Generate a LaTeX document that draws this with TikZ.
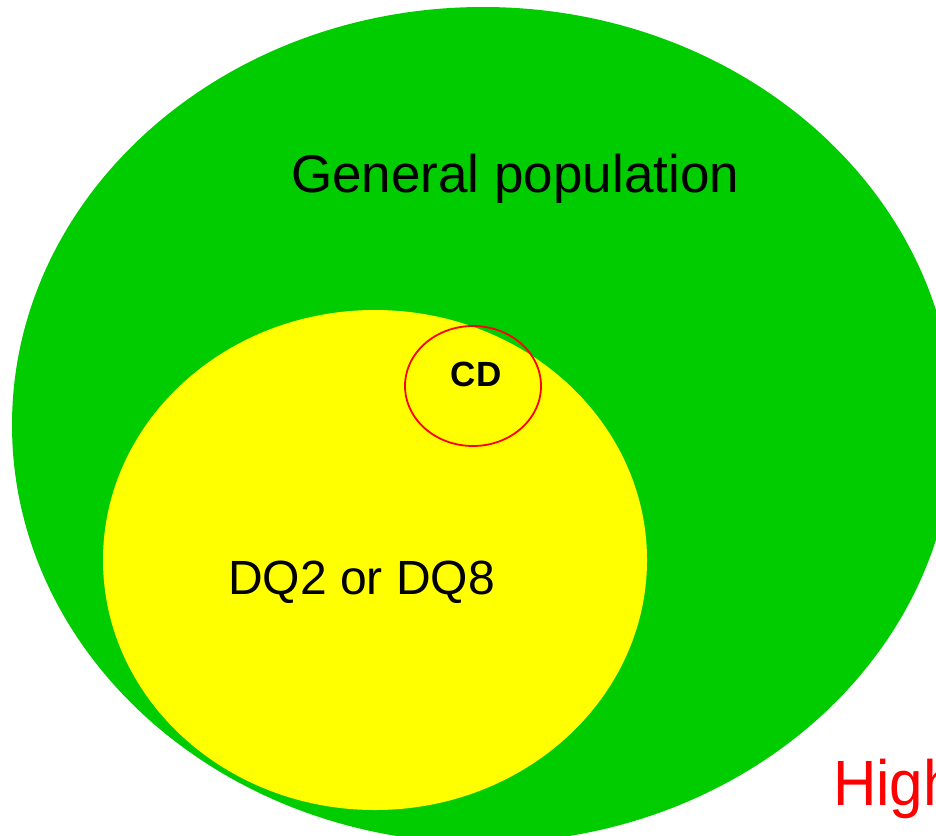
\documentclass[tikz,border=0pt]{standalone}
\usepackage{fontspec}
\setmainfont{Liberation Sans}
\usepackage{xcolor}
\usepackage{tikz}

\definecolor{popgreen}{HTML}{00CC00}
\definecolor{dqyellow}{HTML}{FFFF00}
\definecolor{cdred}{HTML}{FF0000}

\begin{document}
\begin{tikzpicture}[x=1pt, y=-1pt]
  % Fix the frame of the picture
  \useasboundingbox (0,0) rectangle (936,835);
  \clip (0,0) rectangle (936,835);

  % General population
  \fill[color=popgreen] (483,425) ellipse [x radius=471, y radius=418];
  % DQ2 or DQ8 carriers
  \fill[color=dqyellow] (375,560) ellipse [x radius=272, y radius=250];
  % CD patients
  \draw[color=cdred, line width=1.8pt] (473,386) ellipse [x radius=68, y radius=60];

  % Labels
  \node[anchor=base west, inner sep=0pt, font=\fontsize{53}{60}\selectfont] (genpop) at (291,192) {General population};
  \node[anchor=base west, inner sep=0pt, font=\fontsize{48}{56}\selectfont] (dq) at (228,594) {DQ2 or DQ8};
  \node[anchor=base, inner sep=0pt, font=\bfseries\fontsize{35}{40}\selectfont] (cd) at (476,386) {CD};
  \node[anchor=base west, inner sep=0pt, text=cdred, xscale=0.94, font=\fontsize{64}{70}\selectfont] (high) at (833,805) {High};
\end{tikzpicture}
\end{document}
